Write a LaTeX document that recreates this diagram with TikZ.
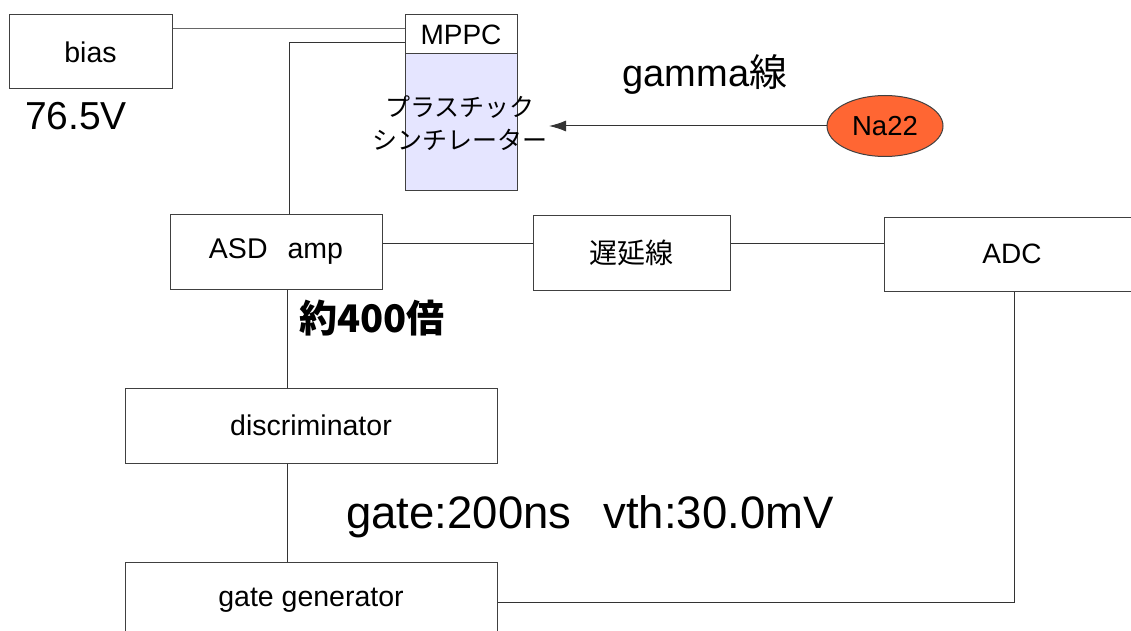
\documentclass[tikz,border=0pt]{standalone}
\usepackage{fontspec}
\setmainfont{Liberation Sans}
\newfontfamily\cjk{Noto Sans CJK JP}
\usetikzlibrary{arrows.meta,shapes.geometric}
\begin{document}
\begin{tikzpicture}[x=1pt,y=-1pt,
  box/.style={draw=black!75,line width=1pt,rectangle,inner sep=0pt,font=\fontsize{28.5}{30}\selectfont},
  wire/.style={draw=black!80,line width=1pt},
  lbl/.style={inner sep=0pt}]
\useasboundingbox (0,0) rectangle (1131,631);
\clip (0,0) rectangle (1131,631);
\fill[white] (0,0) rectangle (1131,631);

% boxes
\node[box,minimum width=163pt,minimum height=74pt] (bias) at (90.5,52) {bias};
\node[box,minimum width=112pt,minimum height=39pt,font=\fontsize{28}{30}\selectfont] (mppc) at (461,34.5) {MPPC};
\node[box,fill=blue!10,minimum width=112pt,minimum height=136pt] (scint) at (461,122) {};
\node[lbl,align=center,font=\cjk\fontsize{25}{33}\selectfont] (stxt) at (460,123) {プラスチック\\シンチレーター};
\node[box,minimum width=212pt,minimum height=75pt] (asd) at (276,251.5) {ASD\hspace{20pt}amp};
\node[box,minimum width=197pt,minimum height=75pt,font=\cjk\fontsize{28}{30}\selectfont] (delay) at (631.5,252.5) {遅延線};
\node[box,minimum width=256pt,minimum height=74pt,font=\fontsize{28}{30}\selectfont] (adc) at (1012,254) {ADC};
\node[box,minimum width=372pt,minimum height=75pt] (disc) at (311,425.5) {discriminator};
\node[box,minimum width=372pt,minimum height=75pt] (gate) at (311,600) {gate generator};
\node[ellipse,draw=black!75,line width=1pt,fill={rgb,255:red,255;green,102;blue,51},minimum width=116pt,minimum height=61pt,inner sep=0pt,font=\fontsize{27.5}{30}\selectfont] (na) at (885,126) {Na22};

% labels
\node[lbl,font=\fontsize{39}{40}\selectfont] (volt) at (76,116) {76.5V};
\node[lbl,font=\fontsize{38}{40}\selectfont] (gamma) at (705,74) {gamma{\cjk 線}};
\node[lbl,font=\cjk\bfseries\fontsize{38}{40}\selectfont] (gain) at (372,318) {約400倍};
\node[lbl,font=\fontsize{45.5}{48}\selectfont] (gset) at (590,517) {gate:200ns\hspace{32pt}vth:30.0mV};

% connectors
\coordinate (tip) at (549,126);
\draw[wire,-{Latex[length=17pt,width=11pt]}] (na.west) -- (tip);
\draw[wire,draw=black!60] (bias.east |- 0,29) -- (mppc.west |- 0,29);
\draw[wire] (mppc.west |- 0,43) -| (289,0 |- asd.north);
\draw[wire] (asd.east |- 0,243) -- (delay.west |- 0,243);
\draw[wire] (delay.east |- 0,243) -- (adc.west |- 0,243);
\draw[wire] (287,0 |- asd.south) -- (287,0 |- disc.north);
\draw[wire] (287,0 |- disc.south) -- (287,0 |- gate.north);
\draw[wire] (gate.east |- 0,602) -| (1014,0 |- adc.south);
\end{tikzpicture}
\end{document}
